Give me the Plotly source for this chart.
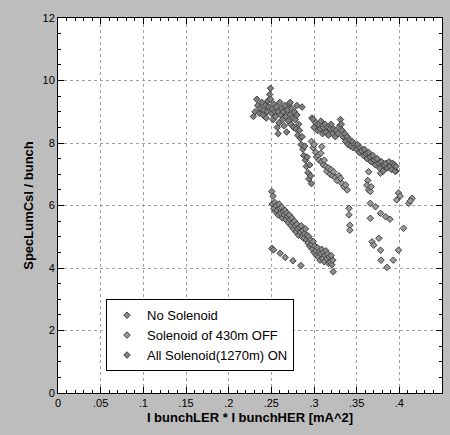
import plotly.graph_objects as go

# ---- Data ----
# All Solenoid(1270m) ON : upper dense cluster + upper band
on_x = [0.229, 0.231, 0.233, 0.234, 0.236, 0.237, 0.239, 0.240, 0.241, 0.243, 0.244, 0.245,
        0.246, 0.247, 0.248, 0.249, 0.249, 0.250, 0.251, 0.252, 0.253, 0.254, 0.255, 0.256,
        0.257, 0.258, 0.258, 0.259, 0.260, 0.261, 0.262, 0.263, 0.264, 0.265, 0.266, 0.267,
        0.268, 0.269, 0.270, 0.271, 0.272, 0.272, 0.273, 0.274, 0.275, 0.276, 0.277, 0.278,
        0.279, 0.280, 0.280, 0.281, 0.282, 0.283, 0.284, 0.285, 0.286, 0.286, 0.287, 0.288,
        0.289, 0.290, 0.291, 0.292, 0.293, 0.294, 0.295, 0.296, 0.297,
        0.2976, 0.299, 0.300, 0.302, 0.304, 0.305, 0.307, 0.308, 0.310, 0.311, 0.313, 0.314,
        0.316, 0.317, 0.319, 0.320, 0.322, 0.323, 0.325, 0.326, 0.328, 0.330, 0.331, 0.332,
        0.333, 0.334, 0.336, 0.337, 0.339, 0.340, 0.342, 0.343, 0.345, 0.346, 0.348, 0.350,
        0.351, 0.353, 0.354, 0.356, 0.358, 0.359, 0.361, 0.362, 0.364, 0.366, 0.367, 0.369,
        0.371, 0.372, 0.374, 0.376, 0.377, 0.379, 0.381, 0.382, 0.384, 0.386, 0.388, 0.389,
        0.391, 0.392, 0.394, 0.395, 0.396]
on_y = [8.85, 9.00, 9.40, 9.20, 8.95, 9.10, 9.30, 8.90, 9.05, 9.20, 8.80, 9.00,
        9.35, 9.15, 9.55, 9.75, 9.40, 8.95, 9.10, 8.75, 9.25, 9.00, 8.85, 9.15,
        8.50, 8.30, 9.00, 8.65, 9.30, 8.90, 9.10, 8.75, 9.00, 8.55, 9.20, 8.85,
        8.35, 9.05, 8.70, 9.25, 8.90, 9.30, 8.60, 9.10, 8.80, 8.50, 9.00, 8.75,
        8.45, 8.90, 9.20, 8.25, 8.60, 8.40, 8.15, 7.95, 8.20, 9.15, 7.80, 7.60,
        7.90, 7.45, 7.25, 7.55, 7.05, 6.85, 7.30, 6.95, 6.70,
        8.80, 8.75, 8.50, 8.65, 8.40, 8.60, 8.45, 8.70, 8.30, 8.50, 8.60, 8.35,
        8.50, 8.25, 8.45, 8.60, 8.30, 8.45, 8.20, 8.40, 8.30, 8.55, 8.75, 8.60,
        8.40, 8.20, 8.30, 8.05, 8.20, 7.95, 8.10, 7.90, 8.05, 7.85, 7.95, 7.80,
        7.95, 7.70, 7.85, 7.75, 7.60, 7.80, 7.65, 7.50, 7.70, 7.55, 7.40, 7.60,
        7.45, 7.30, 7.50, 7.35, 7.20, 7.40, 7.10, 7.30, 7.35, 7.20, 7.40, 7.25,
        7.15, 7.35, 7.30, 7.10, 7.25]

# Solenoid of 430m OFF : middle diagonal + scattered points on the right
off_x = [0.297, 0.299, 0.300, 0.302, 0.303, 0.305, 0.306, 0.309, 0.308, 0.309, 0.311, 0.312,
         0.314, 0.315, 0.317, 0.319, 0.320, 0.322, 0.323, 0.325, 0.327, 0.329, 0.331, 0.333,
         0.335, 0.337, 0.339,
         0.341, 0.341, 0.342, 0.342, 0.364, 0.363, 0.362, 0.364, 0.366, 0.367, 0.366, 0.372,
         0.366, 0.378, 0.384, 0.389, 0.405, 0.368, 0.370, 0.376, 0.378, 0.399, 0.3785, 0.393,
         0.3855, 0.399, 0.401, 0.397, 0.411, 0.415, 0.413, 0.396, 0.378]
off_y = [8.05, 7.85, 7.95, 7.70, 7.55, 7.60, 7.45, 7.88, 7.67, 7.40, 7.30, 7.45,
         7.25, 7.10, 7.20, 7.00, 7.15, 6.95, 7.08, 6.90, 6.80, 6.95, 6.87, 6.70,
         6.60, 6.66, 6.50,
         5.91, 5.70, 5.37, 5.21, 7.08, 6.80, 6.65, 6.50, 6.45, 6.60, 6.07, 5.96,
         5.59, 5.75, 5.64, 5.56, 5.27, 4.84, 4.73, 4.95, 4.57, 4.57, 4.25, 4.25,
         4.02, 6.40, 6.30, 6.18, 6.07, 6.23, 6.15, 7.10, 7.03]

# No Solenoid : lower dense band + sparse lower line
no_x = [0.2505, 0.252, 0.251, 0.253, 0.254, 0.255, 0.256, 0.257, 0.258, 0.259, 0.260, 0.261,
        0.262, 0.263, 0.264, 0.265, 0.266, 0.267, 0.268, 0.269, 0.270, 0.271, 0.272, 0.273,
        0.274, 0.275, 0.276, 0.277, 0.278, 0.279, 0.280, 0.281, 0.282, 0.283, 0.284, 0.285,
        0.286, 0.287, 0.288, 0.289, 0.290, 0.291, 0.292, 0.293, 0.294, 0.295, 0.296, 0.297,
        0.298, 0.299, 0.300, 0.301, 0.302, 0.303, 0.304, 0.305, 0.306, 0.307, 0.308, 0.309,
        0.310, 0.311, 0.312, 0.313, 0.314, 0.315, 0.316, 0.317, 0.318, 0.319, 0.320, 0.321,
        0.322, 0.3225,
        0.2507, 0.2525, 0.2604, 0.2663, 0.2753, 0.2847]
no_y = [6.45, 6.30, 6.05, 5.90, 6.10, 5.80, 6.00, 5.85, 5.70, 6.05, 5.90, 5.75,
        5.95, 5.60, 5.80, 5.70, 5.85, 5.55, 5.75, 5.65, 5.45, 5.70, 5.55, 5.35,
        5.60, 5.45, 5.25, 5.50, 5.35, 5.15, 5.40, 5.25, 5.05, 5.30, 5.15, 5.35,
        5.00, 5.20, 4.95, 5.10, 5.25, 4.90, 5.05, 4.80, 5.00, 4.70, 4.90, 4.75,
        4.60, 4.85, 4.50, 4.70, 4.55, 4.40, 4.65, 4.35, 4.50, 4.25, 4.45, 4.60,
        4.30, 4.50, 4.20, 4.40, 4.55, 4.30, 4.45, 4.15, 4.35, 4.20, 4.40, 4.10,
        4.25, 3.88,
        4.63, 4.58, 4.47, 4.34, 4.23, 4.08]

x_tickvals = [0, 0.05, 0.1, 0.15, 0.2, 0.25, 0.3, 0.35, 0.4]
x_ticktext = ["0", ".05", ".1", ".15", ".2", ".25", ".3", ".35", ".4"]
y_tickvals = [0, 2, 4, 6, 8, 10, 12]
y_ticktext = ["0", "2", "4", "6", "8", "10", "12"]

FONT = "Liberation Sans, Arial, sans-serif"


def marker(fill):
    return dict(symbol="diamond", size=5, color=fill, line=dict(color="#404040", width=1))


fig = go.Figure()
fig.add_trace(go.Scatter(x=no_x, y=no_y, mode="markers", name="No Solenoid",
                         marker=marker("#8c8c8c")))
fig.add_trace(go.Scatter(x=off_x, y=off_y, mode="markers", name="Solenoid of 430m OFF",
                         marker=marker("#9a9a9a")))
fig.add_trace(go.Scatter(x=on_x, y=on_y, mode="markers", name="All Solenoid(1270m) ON",
                         marker=marker("#808080")))

axis_common = dict(
    showline=True, linecolor="black", linewidth=1, mirror="ticks",
    ticks="inside", ticklen=6, tickcolor="black", tickwidth=1,
    showgrid=True, gridcolor="#a0a0a0", griddash="dot", gridwidth=1,
    zeroline=False, automargin=False,
    tickfont=dict(family=FONT, size=11, color="black"),
)

fig.update_xaxes(
    range=[0, 0.45], tickmode="array", tickvals=x_tickvals, ticktext=x_ticktext,
    minor=dict(dtick=0.01, ticks="inside", ticklen=3, tickcolor="black", showgrid=False),
    title=dict(text="<b>I bunchLER * I bunchHER [mA^2]</b>",
               font=dict(family=FONT, size=13, color="black"), standoff=4),
    **axis_common,
)
fig.update_yaxes(
    range=[0, 12], tickmode="array", tickvals=y_tickvals, ticktext=y_ticktext,
    minor=dict(dtick=0.5, ticks="inside", ticklen=3, tickcolor="black", showgrid=False),
    title=dict(text="<b>SpecLumCsl / bunch</b>",
               font=dict(family=FONT, size=13, color="black"), standoff=5),
    **axis_common,
)

fig.update_layout(
    width=450, height=435,
    margin=dict(l=58, r=8, t=18, b=42),
    paper_bgcolor="#bdbdbd",
    plot_bgcolor="white",
    showlegend=True,
    legend=dict(
        x=0.125, y=0.25, xanchor="left", yanchor="top",
        bgcolor="white", bordercolor="black", borderwidth=1,
        font=dict(family=FONT, size=13, color="black"),
        tracegroupgap=0,
    ),
    font=dict(family=FONT, color="black"),
)

fig.write_html("out.html",
               config={"displayModeBar": False},
               post_script="document.body.style.margin='0';document.body.style.background='#bdbdbd';")
